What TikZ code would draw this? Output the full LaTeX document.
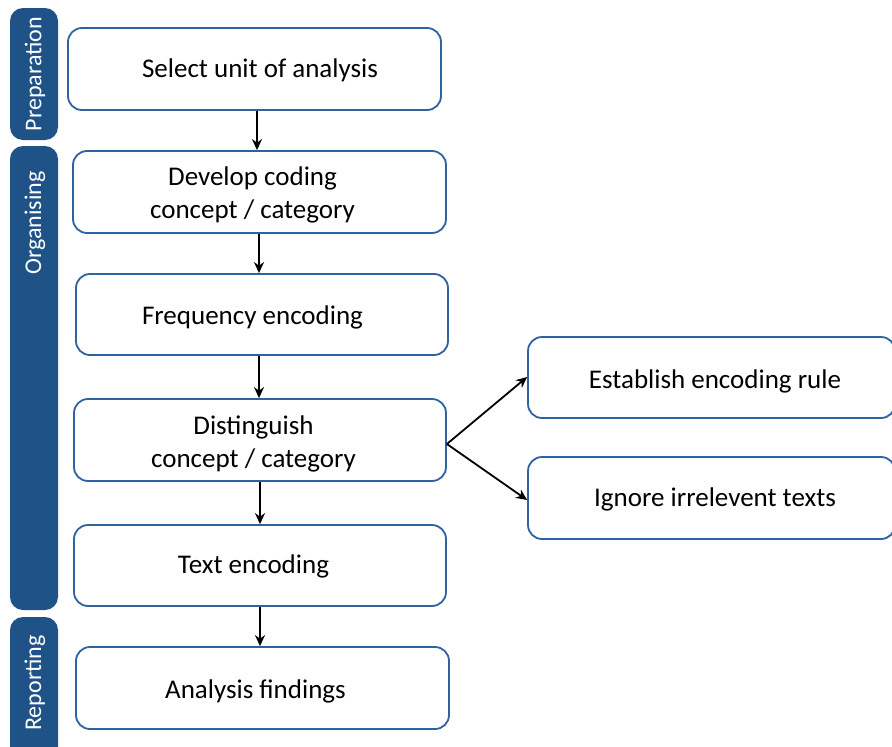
\documentclass[tikz,border=0pt]{standalone}
\usepackage{fontspec}
\setmainfont{Carlito}
\usetikzlibrary{arrows.meta}
\definecolor{bar}{HTML}{1F5287}
\definecolor{edge}{HTML}{2E62A0}
\tikzset{
  stagebox/.style={draw=edge, line width=1.8pt, rounded corners=14pt, fill=white, inner sep=0pt},
  boxtext/.style={align=center, font=\fontsize{27}{33}\selectfont, inner sep=0pt},
  barbox/.style={fill=bar, rounded corners=13pt},
  bartext/.style={rotate=90, text=white, font=\fontsize{24}{26}\selectfont},
  arr/.style={line width=1.8pt, -{Stealth[length=11pt,width=10pt]}}
}
\begin{document}
\begin{tikzpicture}[x=1pt,y=-1pt]
\useasboundingbox (0,0) rectangle (892,747);
\begin{scope}
\clip (0,0) rectangle (892,747);
% side bars
\fill[barbox] (10,8) rectangle (58,140);
\fill[barbox] (10,146) rectangle (58,610);
\fill[barbox] (10,617) rectangle (58,770);
\node[bartext] (lprep) at (35,74) {Preparation};
\node[bartext] (lorg) at (35,223) {Organising};
\node[bartext] (lrep) at (35,683) {Reporting};
% main boxes
\node[stagebox, minimum width=373pt, minimum height=82pt] (b1) at (254.5,69) {};
\node[stagebox, minimum width=373pt, minimum height=82pt] (b2) at (259.5,192) {};
\node[stagebox, minimum width=372pt, minimum height=81pt] (b3) at (262,314.5) {};
\node[stagebox, minimum width=372pt, minimum height=82pt] (b4) at (260,440) {};
\node[stagebox, minimum width=372pt, minimum height=81pt] (b5) at (260,565.5) {};
\node[stagebox, minimum width=373pt, minimum height=82pt] (b6) at (262.5,688) {};
\node[stagebox, minimum width=367pt, minimum height=81pt] (r1) at (711.5,377.5) {};
\node[stagebox, minimum width=367pt, minimum height=82pt] (r2) at (711.5,498) {};
% texts
\node[boxtext] (t1) at (260,70) {Select unit of analysis};
\node[boxtext] (t2) at (252.5,194.5) {Develop coding\\concept / category};
\node[boxtext] (t3) at (252.5,317.5) {Frequency encoding};
\node[boxtext] (t4) at (253.5,443.5) {Distinguish\\concept / category};
\node[boxtext] (t5) at (253.5,566.5) {Text encoding};
\node[boxtext] (t6) at (255.5,691) {Analysis findings};
\node[boxtext] (tr1) at (715,381) {Establish encoding rule};
\node[boxtext] (tr2) at (715,499) {Ignore irrelevent texts};
\end{scope}
% connectors
\draw[arr] (257,0 |- b1.south) -- (257,0 |- b2.north);
\draw[arr] (259,0 |- b2.south) -- (259,0 |- b3.north);
\draw[arr] (259,0 |- b3.south) -- (259,0 |- b4.north);
\draw[arr] (260,0 |- b4.south) -- (260,0 |- b5.north);
\draw[arr] (260,0 |- b5.south) -- (260,0 |- b6.north);
\coordinate (fork) at ([yshift=-4pt]b4.east);
\draw[arr] (fork) -- ([yshift=0.5pt]r1.west);
\draw[arr] (fork) -- ([yshift=-2pt]r2.west);
\end{tikzpicture}
\end{document}
